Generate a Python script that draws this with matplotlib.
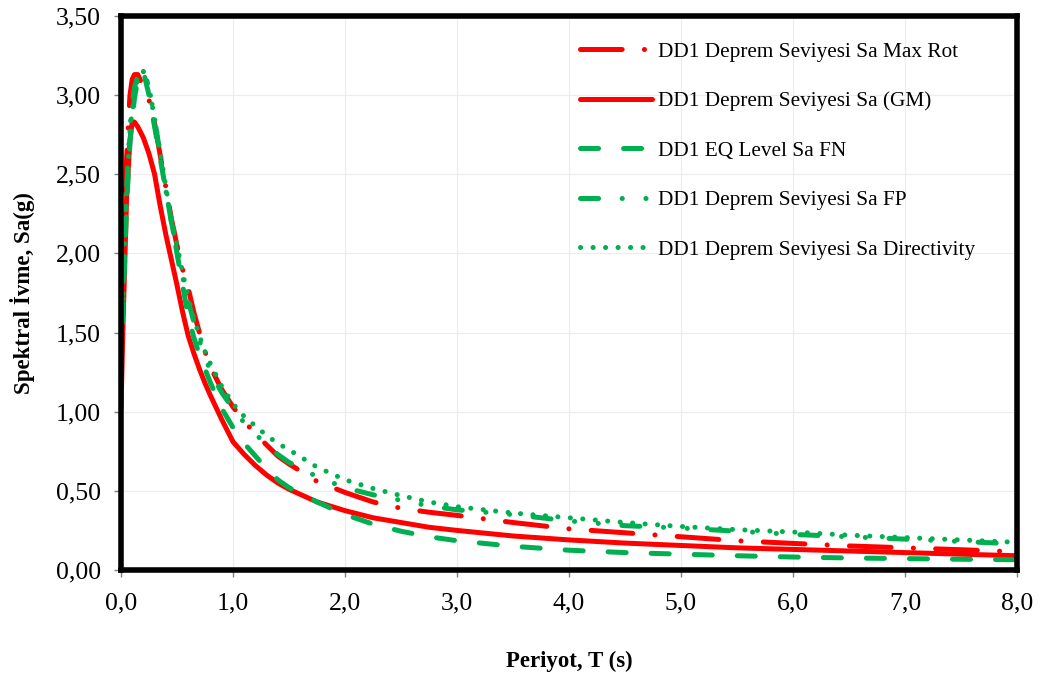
import matplotlib
matplotlib.use("Agg")
import matplotlib.pyplot as plt
from matplotlib.ticker import MultipleLocator, FuncFormatter

plt.rcParams['font.family'] = ['Liberation Serif', 'DejaVu Serif']
plt.rcParams['lines.scale_dashes'] = False

T = [0, 0.02, 0.05, 0.08, 0.1, 0.12, 0.15, 0.2, 0.25, 0.3, 0.35, 0.4, 0.45, 0.5, 0.55, 0.6,
     0.65, 0.7, 0.75, 0.8, 0.9, 1.0, 1.1, 1.2, 1.3, 1.4, 1.5, 1.75, 2.0, 2.25, 2.5, 2.75, 3.0,
     3.5, 4.0, 4.5, 5.0, 5.5, 6.0, 6.5, 7.0, 7.5, 8.0]

sa_maxrot = [1.30, 1.90, 2.60, 3.00, 3.10, 3.13, 3.13, 3.05, 2.97, 2.82, 2.62, 2.42, 2.22, 2.05, 1.90, 1.78,
             1.63, 1.50, 1.38, 1.28, 1.14, 1.03, 0.94, 0.86, 0.79, 0.72, 0.67, 0.56, 0.49, 0.43, 0.39, 0.365, 0.345,
             0.30, 0.26, 0.235, 0.21, 0.185, 0.168, 0.152, 0.14, 0.128, 0.115]
sa_gm = [1.02, 1.60, 2.35, 2.72, 2.83, 2.83, 2.80, 2.73, 2.63, 2.50, 2.30, 2.12, 1.96, 1.80, 1.63, 1.48,
         1.37, 1.27, 1.18, 1.10, 0.95, 0.81, 0.73, 0.66, 0.60, 0.55, 0.51, 0.43, 0.375, 0.33, 0.30, 0.27, 0.25,
         0.215, 0.19, 0.17, 0.155, 0.14, 0.13, 0.12, 0.11, 0.10, 0.09]
sa_fn = [1.30, 1.70, 2.30, 2.70, 2.85, 2.98, 3.10, 3.15, 3.00, 2.80, 2.60, 2.40, 2.20, 2.00, 1.80, 1.60,
         1.47, 1.36, 1.27, 1.18, 1.02, 0.90, 0.80, 0.72, 0.64, 0.57, 0.52, 0.43, 0.35, 0.29, 0.245, 0.21, 0.185,
         0.15, 0.125, 0.11, 0.10, 0.09, 0.082, 0.076, 0.072, 0.068, 0.065]
sa_fp = [1.30, 1.75, 2.40, 2.80, 2.95, 3.05, 3.12, 3.16, 3.05, 2.85, 2.62, 2.40, 2.20, 2.02, 1.85, 1.70,
         1.57, 1.45, 1.35, 1.25, 1.12, 1.02, 0.93, 0.86, 0.79, 0.73, 0.68, 0.59, 0.52, 0.475, 0.44, 0.405, 0.38,
         0.35, 0.31, 0.28, 0.265, 0.245, 0.225, 0.21, 0.195, 0.18, 0.165]
sa_dir = [1.35, 1.80, 2.40, 2.78, 2.90, 3.00, 3.10, 3.15, 3.05, 2.85, 2.64, 2.42, 2.22, 2.05, 1.88, 1.72,
          1.59, 1.48, 1.38, 1.30, 1.16, 1.05, 0.97, 0.91, 0.85, 0.80, 0.76, 0.65, 0.57, 0.515, 0.47, 0.43, 0.40,
          0.36, 0.33, 0.30, 0.275, 0.255, 0.24, 0.22, 0.205, 0.19, 0.175]

labels = ["DD1 Deprem Seviyesi Sa Max Rot", "DD1 Deprem Seviyesi Sa (GM)",
          "DD1 EQ Level Sa FN", "DD1 Deprem Seviyesi Sa FP",
          "DD1 Deprem Seviyesi Sa Directivity"]

RED = "#FF0000"
GREEN = "#00B050"
LW = 3.6

fig = plt.figure(figsize=(10.39, 6.80), dpi=100)
ax = fig.add_axes([121/1039, 1-570/680, (1017-121)/1039, (570-16)/680])

common = dict(lw=LW, solid_capstyle='round', dash_capstyle='round', solid_joinstyle='round')
ax.plot(T, sa_maxrot, color=RED, dashes=(30, 16, 0.1, 16), label=labels[0], **common)
ax.plot(T, sa_gm, color=RED, linestyle='-', label=labels[1], **common)
ax.plot(T, sa_fn, color=GREEN, dashes=(13, 18), label=labels[2], **common)
ax.plot(T, sa_fp, color=GREEN, dashes=(13, 17, 0.1, 17, 0.1, 17), label=labels[3], **common)
ax.plot(T, sa_dir, color=GREEN, dashes=(0.1, 8.9), label=labels[4], **common)

ax.set_xlim(0, 8)
ax.set_ylim(0, 3.5)
ax.xaxis.set_major_locator(MultipleLocator(1.0))
ax.yaxis.set_major_locator(MultipleLocator(0.5))
ax.xaxis.set_major_formatter(FuncFormatter(lambda v, p: f"{v:.1f}".replace('.', ',')))
ax.yaxis.set_major_formatter(FuncFormatter(lambda v, p: f"{v:.2f}".replace('.', ',')))
ax.tick_params(axis='both', labelsize=18.5, length=5, width=1, color='#808080', direction='out')
ax.tick_params(axis='x', pad=11)
ax.tick_params(axis='y', pad=9.5)
ax.grid(True, color='#ececec', lw=0.8)
ax.set_axisbelow(True)
for s in ax.spines.values():
    s.set_linewidth(4)
    s.set_color('black')

ax.set_xlabel("Periyot, T (s)", fontsize=16.5, fontweight='bold', labelpad=26)
ax.set_ylabel("Spektral İvme, Sa(g)", fontsize=16.5, fontweight='bold', labelpad=15)

leg = ax.legend(loc='upper left', bbox_to_anchor=(580/1039, 1-42/680),
                bbox_transform=fig.transFigure, frameon=False, fontsize=15.3,
                handlelength=3.4, handletextpad=0.25, labelspacing=1.39,
                borderpad=0, borderaxespad=0)

fig.savefig("out.png", dpi=100)
